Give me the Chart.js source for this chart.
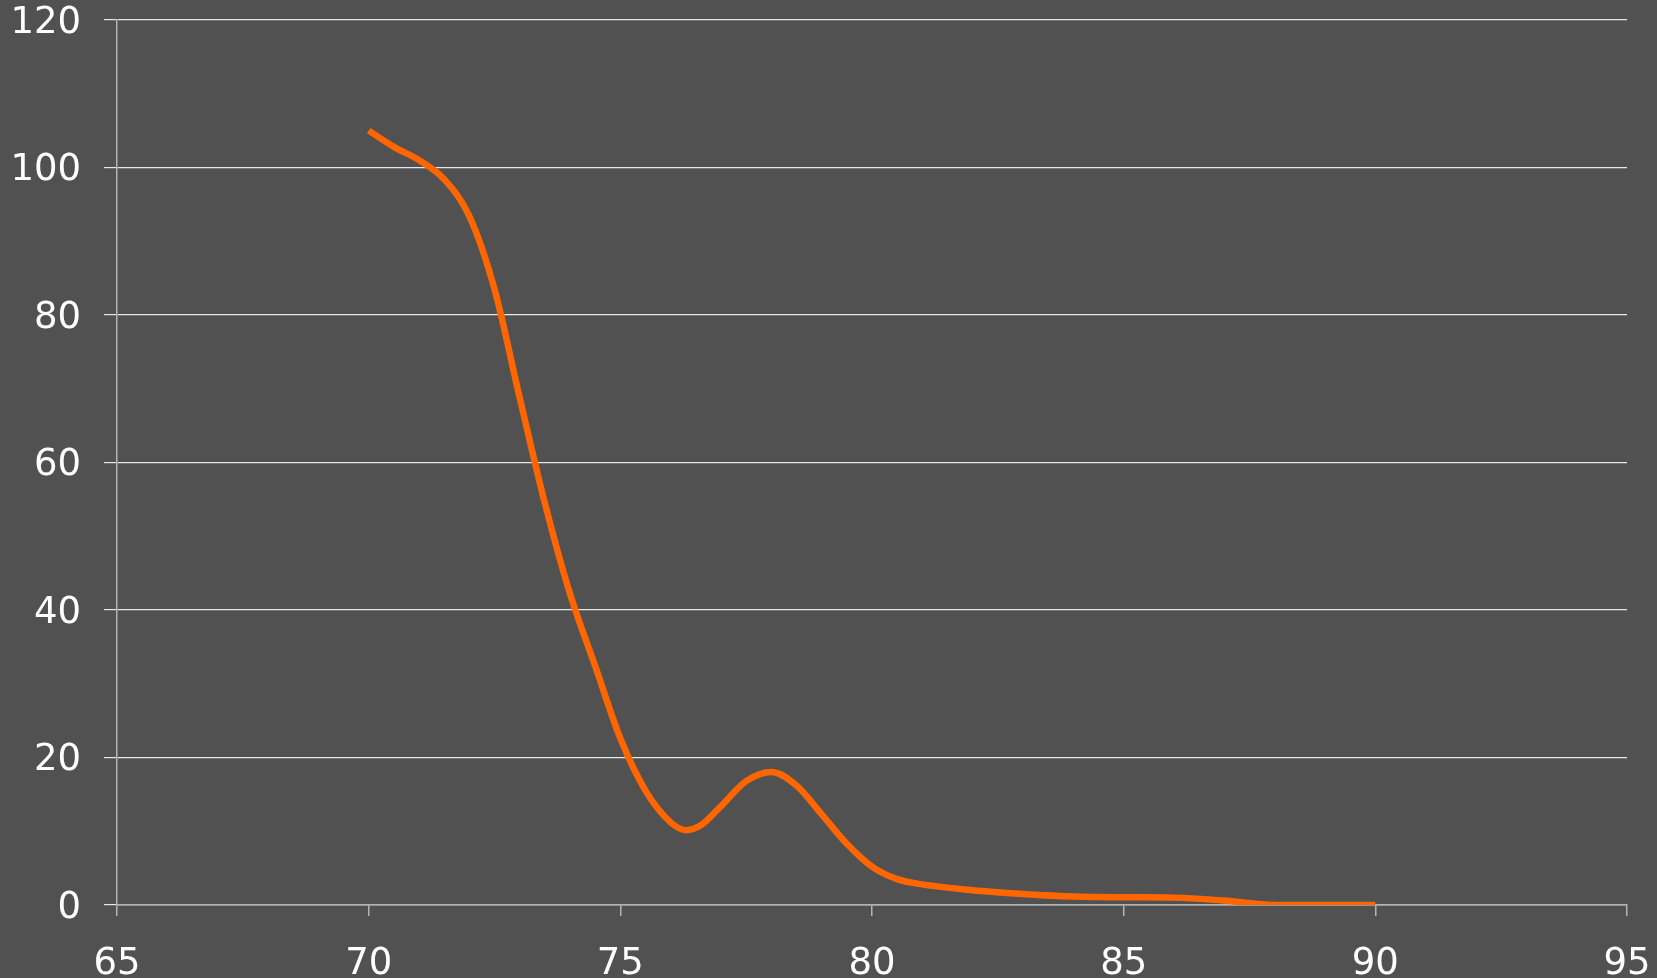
<!DOCTYPE html>
<html>
<head>
<meta charset="utf-8">
<script src="https://cdn.jsdelivr.net/npm/chart.js@4"></script>
<style>
  html, body { margin: 0; padding: 0; background: #515151; overflow: hidden; }
  canvas { display: block; }
</style>
</head>
<body>
<canvas id="curveChart" width="1657" height="978"></canvas>
<script>
  // values
  const xValues = [70, 70.5, 71, 71.5, 72, 72.5, 73, 73.5, 74, 74.5, 75, 75.5, 76, 76.3, 76.6, 77, 77.5, 78, 78.5, 79, 79.5, 80, 80.5, 81, 82, 83, 84, 85, 86, 87, 88, 89, 90];
  const yValues = [105, 102.8, 101.0, 98.4, 93.4, 83.5, 68.8, 54.5, 42.2, 32.4, 22.6, 15.5, 11.2, 10.15, 10.8, 13.4, 16.8, 18.05, 16.2, 12.3, 8.3, 5.2, 3.5, 2.8, 2.0, 1.5, 1.15, 1.05, 1.0, 0.6, 0, 0, 0];

  const points = xValues.map((x, i) => ({ x: x, y: yValues[i] }));

  const axisGray = '#b4b4b4';
  const labelFont = { family: 'DejaVu Sans', size: 37 };

  const ctx = document.getElementById('curveChart').getContext('2d');
  new Chart(ctx, {
    type: 'line',
    data: {
      datasets: [
        {
          data: points,
          borderColor: '#ff6600',
          borderWidth: 6.5,
          pointRadius: 0,
          fill: false,
          cubicInterpolationMode: 'monotone'
        }
      ]
    },
    options: {
      responsive: false,
      animation: false,
      layout: { padding: 0 },
      plugins: {
        legend: { display: false },
        tooltip: { enabled: false }
      },
      scales: {
        x: {
          type: 'linear',
          min: 65,
          max: 95,
          afterFit: scale => {
            scale.height = 73;
            scale.paddingLeft = 0;
            scale.paddingRight = 30;
          },
          ticks: { stepSize: 5, color: '#ffffff', font: labelFont, padding: 26, maxRotation: 0 },
          grid: { drawOnChartArea: false, color: axisGray, tickLength: 11, lineWidth: 1.5 },
          border: { color: axisGray, width: 1.5 }
        },
        y: {
          min: 0,
          max: 120,
          afterFit: scale => {
            scale.width = 117;
            scale.paddingTop = 20;
            scale.paddingBottom = 0;
          },
          ticks: { stepSize: 20, color: '#ffffff', font: labelFont, padding: 23, labelOffset: 3 },
          grid: { color: '#e8e8e8', tickColor: '#e8e8e8', tickLength: 13, lineWidth: 1.2 },
          border: { color: axisGray, width: 1.5 }
        }
      }
    }
  });
</script>
</body>
</html>
